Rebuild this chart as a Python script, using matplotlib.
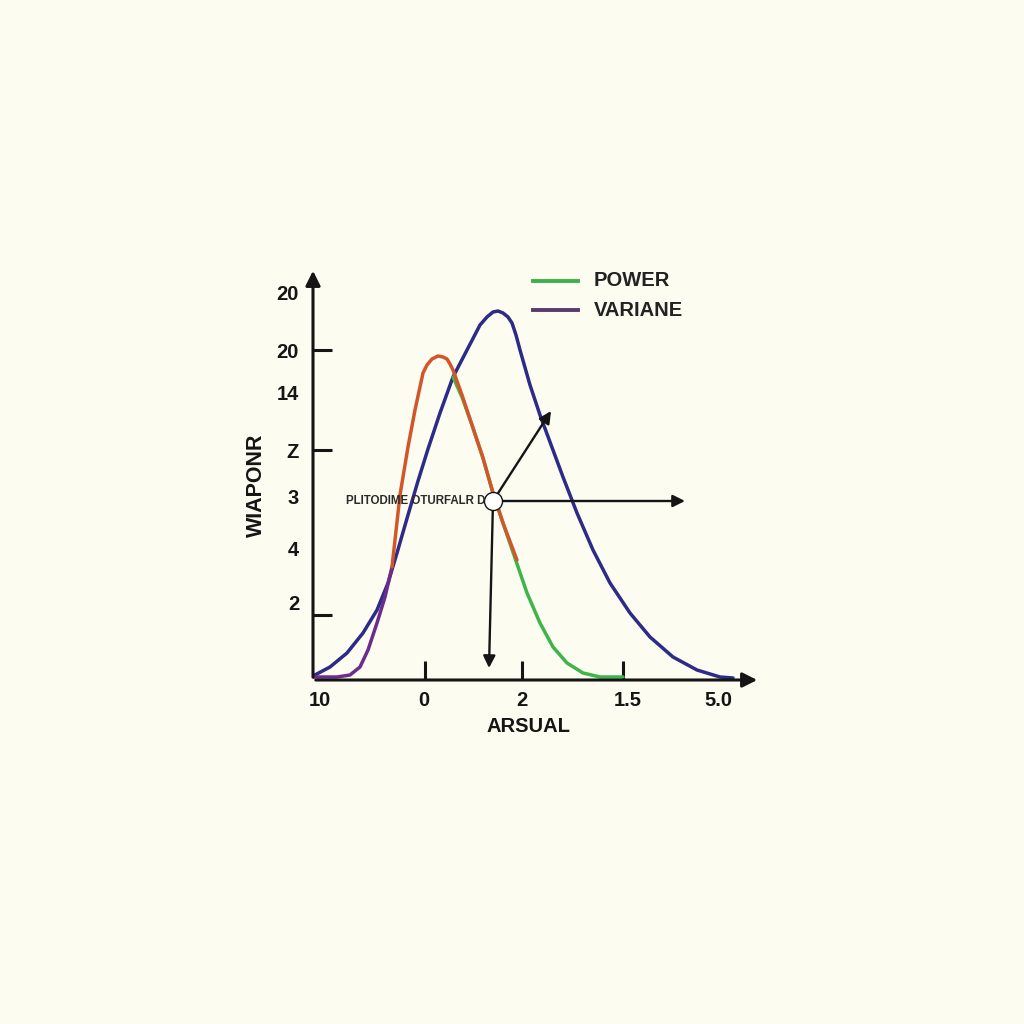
import numpy as np
import matplotlib.pyplot as plt

# chart units: x from the y axis to the arrow tip, y from the x axis up
blue_x = [0, 17, 34, 50, 64, 75, 84, 95, 105, 115, 127, 140, 154, 167, 174, 180, 185,
          190, 195, 199, 203, 207, 217, 227, 237, 250, 264, 280, 297, 317, 337, 360,
          384, 407, 420]
blue_y = [4, 13, 27, 47, 70, 97, 127, 165, 199, 231, 267, 303, 330, 355, 363, 368, 369,
          367, 363, 357, 345, 330, 295, 265, 238, 203, 167, 130, 97, 67, 43, 23,
          10, 3, 2]

purple_x = [0, 24, 37, 47, 55, 64, 72, 79]
purple_y = [3, 3, 5, 13, 30, 57, 83, 113]

orange_x = [79, 82, 87, 95, 102, 110, 114, 119, 125, 130, 134, 137, 140, 149, 159, 170,
            180, 190, 204]
orange_y = [113, 140, 185, 233, 270, 307, 315, 321, 324, 323, 321, 316, 310, 285, 255, 222,
            187, 157, 120]

green_x = [140, 149, 159, 170, 180, 190, 202, 214, 227, 240, 254, 270, 287, 310]
green_y = [303, 283, 255, 222, 187, 157, 122, 87, 57, 33, 17, 7, 3, 3]

point = (180, 179)
arrow_tips = [(238, 269), (372, 179), (176, 12)]
point_label = "PLITODIME OTURFALR D"

xtick_pos = [7, 111, 209, 315, 405]
xtick_labels = ["10", "0", "2", "1.5", "5.0"]
xmarks = [112, 209, 310]
ytick_pos = [388, 330, 287, 230, 183, 132, 78]
ytick_labels = ["20", "20", "14", "Z", "3", "4", "2"]
ymarks = [330, 230, 65]

legend_names = ["POWER", "VARIANE"]
legend_colors = ["#3fae4c", "#5b3a70"]
legend_y = [399, 370]

bg = "#fcfcf0"
ink = "#151515"

plt.rcParams['font.family'] = ['Liberation Sans', 'DejaVu Sans']

fig = plt.figure(figsize=(10.24, 10.24), dpi=100, facecolor=bg)
ax = fig.add_axes([313/1024, 344/1024, 447/1024, 412/1024])
ax.set_facecolor(bg)
ax.set_xlim(0, 447)
ax.set_ylim(0, 412)
for s in ax.spines.values():
    s.set_visible(False)

# curves
kw = dict(lw=2.5, solid_capstyle="round", solid_joinstyle="round")
ax.plot(blue_x, blue_y, color="#2d2b88", zorder=3, **kw)
ax.plot(purple_x, purple_y, color="#6c2c8c", zorder=3, **kw)
ax.plot(green_x, green_y, color="#3db54a", zorder=3, **kw)
ax.plot(orange_x, orange_y, color="#d3562a", zorder=4, **kw)

# axes arrows
ax.annotate("", xy=(447, 0), xytext=(0, 0), annotation_clip=False,
            arrowprops=dict(arrowstyle="-|>", color=ink, lw=2.2, mutation_scale=22))
ax.annotate("", xy=(0, 412), xytext=(0, 0), annotation_clip=False,
            arrowprops=dict(arrowstyle="-|>", color=ink, lw=2.2, mutation_scale=22))

# ticks
ax.xaxis.remove_overlapping_locs = False
ax.yaxis.remove_overlapping_locs = False
ax.set_xticks(xtick_pos, xtick_labels)
ax.set_yticks(ytick_pos, ytick_labels)
ax.set_xticks(xmarks, minor=True)
ax.set_yticks(ymarks, minor=True)
ax.tick_params(which="major", length=0, labelsize=14.5, colors=ink)
ax.tick_params(axis="x", which="major", pad=8)
ax.tick_params(axis="y", which="major", pad=10)
ax.tick_params(which="minor", direction="in", length=14, width=2.2, color=ink)
for t in ax.get_xticklabels() + ax.get_yticklabels():
    t.set_fontweight("bold")

ax.set_xlabel("ARSUAL", fontsize=14.5, color=ink, fontweight="bold")
ax.xaxis.set_label_coords(0.482, -0.09)
ax.set_ylabel("WIAPONR", fontsize=15.5, color=ink, fontweight="bold")
ax.yaxis.set_label_coords(-0.103, 0.473)

# annotation arrows from the point
for tip in arrow_tips:
    ax.annotate("", xy=tip, xytext=point, zorder=5,
                arrowprops=dict(arrowstyle="-|>", color=ink, lw=1.7, mutation_scale=18,
                                shrinkA=6, shrinkB=0))
ax.plot(point[0], point[1], "o", ms=13, mfc="white", mec=ink, mew=1.0, zorder=6)
ax.text(point[0] - 8, point[1], point_label, fontsize=8.3, fontweight="bold",
        ha="right", va="center", color="#2a2a2a", zorder=6)

# legend
for name, c, ly in zip(legend_names, legend_colors, legend_y):
    ax.plot([220, 265], [ly, ly], color=c, lw=2.8, clip_on=False)
    ax.text(281, ly, name, fontsize=14.5, fontweight="bold", color="#222222",
            va="center", ha="left")

fig.savefig("out.png", dpi=100, facecolor=bg)
